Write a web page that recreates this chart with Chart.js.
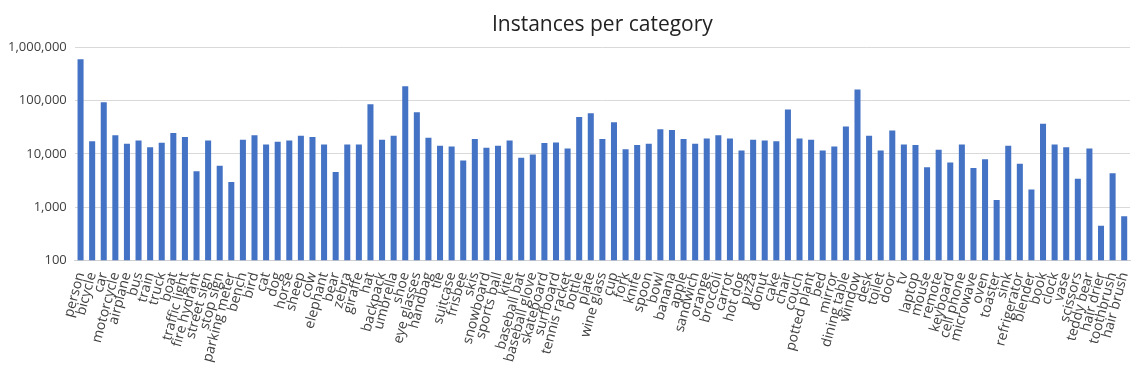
<!DOCTYPE html>
<html>
<head>
<meta charset="utf-8">
<script src="https://cdn.jsdelivr.net/npm/chart.js@4"></script>
<style>
  html, body { margin: 0; padding: 0; background: #fff; }
  #wrap { width: 1133px; height: 381px; }
</style>
</head>
<body>
<div id="wrap"><canvas id="myChart"></canvas></div>
<script>
const categories = ['person','bicycle','car','motorcycle','airplane','bus','train','truck','boat','traffic light',
  'fire hydrant','street sign','stop sign','parking meter','bench','bird','cat','dog','horse','sheep',
  'cow','elephant','bear','zebra','giraffe','hat','backpack','umbrella','shoe','eye glasses',
  'handbag','tie','suitcase','frisbee','skis','snowboard','sports ball','kite','baseball bat','baseball glove',
  'skateboard','surfboard','tennis racket','bottle','plate','wine glass','cup','fork','knife','spoon',
  'bowl','banana','apple','sandwich','orange','broccoli','carrot','hot dog','pizza','donut',
  'cake','chair','couch','potted plant','bed','mirror','dining table','window','desk','toilet',
  'door','tv','laptop','mouse','remote','keyboard','cell phone','microwave','oven','toaster',
  'sink','refrigerator','blender','book','clock','vase','scissors','teddy bear','hair drier','toothbrush',
  'hair brush'];

const instances = [594000, 17300, 93000, 22400, 15400, 17800, 13300, 16100, 24500, 20600,
  4700, 17800, 6000, 2960, 18400, 22400, 15000, 16800, 17800, 21800,
  20600, 15000, 4570, 15000, 15000, 85000, 18400, 21800, 186000, 60000,
  20000, 14200, 13700, 7500, 18900, 13000, 14200, 17800, 8400, 9700,
  15900, 16300, 12600, 49000, 58000, 18900, 39000, 12200, 14600, 15400,
  29000, 28000, 18900, 15400, 19400, 22400, 19400, 11600, 18400, 17800,
  17300, 67600, 19400, 18400, 11600, 13700, 32700, 161000, 21800, 11600,
  27500, 15000, 14600, 5600, 11900, 6850, 15000, 5400, 7900, 1360,
  14200, 6500, 2150, 36800, 15000, 13300, 3400, 12600, 450, 4300,
  676];

const yTicks = [100, 1000, 10000, 100000, 1000000];

new Chart('myChart', {
  type: 'bar',
  data: {
    labels: categories,
    datasets: [{
      label: 'Instances',
      data: instances,
      backgroundColor: '#4472C4',
      borderWidth: 0,
      categoryPercentage: 1.0,
      barPercentage: 0.52
    }]
  },
  options: {
    responsive: true,
    maintainAspectRatio: false,
    animation: false,
    layout: { padding: { left: 0, right: 3, top: 9, bottom: 15 } },
    plugins: {
      legend: { display: false },
      tooltip: { enabled: false },
      title: {
        display: true,
        fullSize: false,
        text: 'Instances per category',
        color: '#222',
        font: { family: 'Open Sans', size: 21, weight: 'normal' },
        padding: { top: 3, bottom: 10 }
      }
    },
    scales: {
      x: {
        grid: { display: false },
        border: { color: '#d0d0d0' },
        afterFit: (axis) => { axis.paddingRight = 0; },
        ticks: {
          autoSkip: false,
          minRotation: 75,
          maxRotation: 75,
          padding: 2,
          color: '#404040',
          font: { family: 'Open Sans', size: 14 }
        }
      },
      y: {
        type: 'logarithmic',
        min: 100,
        max: 1000000,
        afterBuildTicks: (axis) => { axis.ticks = yTicks.map(v => ({ value: v })); },
        grid: { color: '#d9d9d9', drawTicks: false },
        border: { display: false },
        ticks: {
          padding: 8,
          color: '#404040',
          font: { family: 'Open Sans', size: 13 },
          callback: (v) => Number(v).toLocaleString('en-US')
        }
      }
    }
  }
});
</script>
</body>
</html>
